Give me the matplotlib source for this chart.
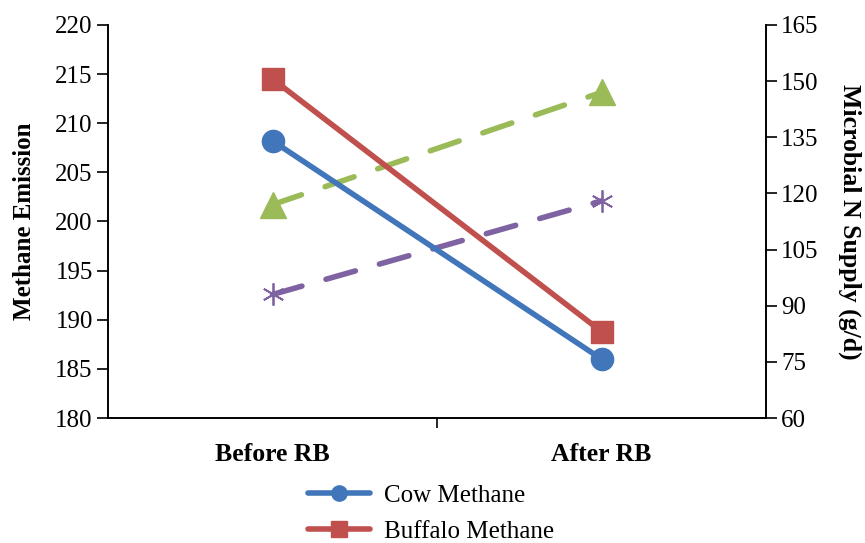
import matplotlib
matplotlib.use("Agg")
import matplotlib.pyplot as plt
from matplotlib.lines import Line2D

plt.rcParams['font.family'] = ['Liberation Serif', 'DejaVu Serif']

categories = ["Before RB", "After RB"]
cow_methane = [208.2, 186.0]
buffalo_methane = [214.5, 188.8]
cow_microbial_n = [117.0, 147.0]
buffalo_microbial_n = [93.0, 118.0]

left_ticks = [180, 185, 190, 195, 200, 205, 210, 215, 220]
right_ticks = [60, 75, 90, 105, 120, 135, 150, 165]

blue = "#4176BA"
red = "#C0504D"
green = "#9BBB59"
purple = "#7F62A1"

fig = plt.figure(figsize=(8.65, 5.43), dpi=100)
ax = fig.add_axes([0.1249, 0.2302, 0.7607, 0.7238])
ax2 = ax.twinx()

x = [0.5, 1.5]
lw = 4.0

ax.plot(x, cow_methane, color=blue, lw=lw, marker='o', ms=16,
        solid_capstyle='round', zorder=4, label="Cow Methane")
ax.plot(x, buffalo_methane, color=red, lw=lw, marker='s', ms=16,
        solid_capstyle='round', zorder=4, label="Buffalo Methane")

ax2.plot(x, cow_microbial_n, color=green, lw=lw, marker='^', ms=19,
         linestyle=(0, (5.5, 4.5)), dash_capstyle='round', label="Cow Microbial N")
ax2.plot(x, buffalo_microbial_n, color=purple, lw=lw, marker=(6, 2, 0), ms=16,
         mew=1.3, linestyle=(0, (5.5, 4.5)), dash_capstyle='round',
         label="Buffalo Microbial N")

ax.set_zorder(ax2.get_zorder() + 1)
ax.patch.set_visible(False)

ax.set_xlim(0, 2)
ax.set_ylim(180, 220)
ax2.set_ylim(60, 165)
ax.set_yticks(left_ticks)
ax2.set_yticks(right_ticks)

ax.set_xticks([1])
ax.set_xticklabels([])
ax.set_xticks(x, minor=True)
ax.set_xticklabels(categories, minor=True, fontweight='bold', fontsize=18.5)
ax.tick_params(axis='x', which='minor', length=0, pad=18)
ax.tick_params(axis='x', which='major', length=7, width=1.2, direction='out')

ax.tick_params(axis='y', labelsize=18, length=8, width=1.2, pad=3)
ax2.tick_params(axis='y', labelsize=18, length=8, width=1.2, pad=3)

for a in (ax, ax2):
    a.spines['top'].set_visible(False)
    for s in ('left', 'right', 'bottom'):
        a.spines[s].set_linewidth(1.2)

ax.set_ylabel("Methane Emission", fontsize=18, fontweight='bold', labelpad=14)
ax2.set_ylabel("Microbial N Supply (g/d)", fontsize=18.5, fontweight='bold',
               rotation=-90, labelpad=31)

handles = [
    Line2D([], [], color=blue, lw=lw, marker='o', ms=11, solid_capstyle='round'),
    Line2D([], [], color=red, lw=lw, marker='s', ms=11, solid_capstyle='round'),
]
fig.legend(handles, ["Cow Methane", "Buffalo Methane"], loc='upper left',
           bbox_to_anchor=(0.344, 0.127), frameon=False, fontsize=18,
           handlelength=2.5, handletextpad=0.55, labelspacing=0.55,
           borderaxespad=0)

fig.savefig("out.png", dpi=100)
